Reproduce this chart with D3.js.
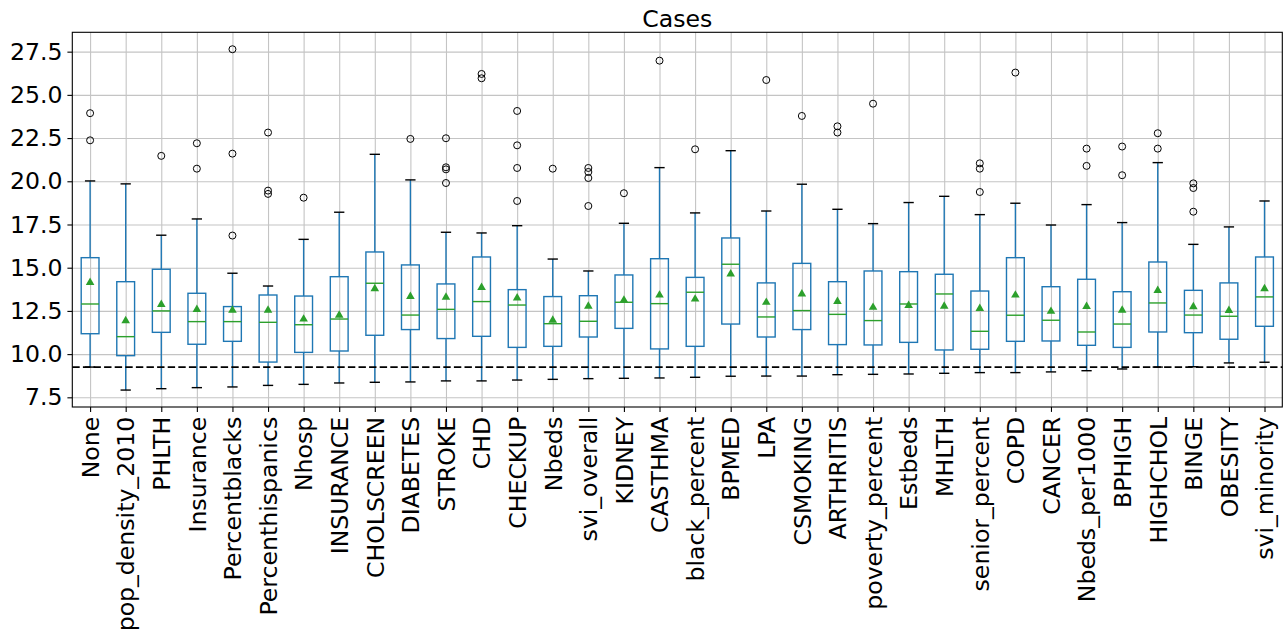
<!DOCTYPE html>
<html>
<head>
<meta charset="utf-8">
<script src="https://cdn.jsdelivr.net/npm/d3@7"></script>
<style>
  html, body { margin: 0; padding: 0; background: #fff; }
  svg { display: block; font-family: "DejaVu Sans", sans-serif; }
</style>
</head>
<body>
<div id="chart"></div>
<script>
// Box statistics, one entry per column
const categories = [
  "None", "pop_density_2010", "PHLTH", "Insurance", "Percentblacks", "Percenthispanics",
  "Nhosp", "INSURANCE", "CHOLSCREEN", "DIABETES", "STROKE", "CHD", "CHECKUP", "Nbeds",
  "svi_overall", "KIDNEY", "CASTHMA", "black_percent", "BPMED", "LPA", "CSMOKING",
  "ARTHRITIS", "poverty_percent", "Estbeds", "MHLTH", "senior_percent", "COPD", "CANCER",
  "Nbeds_per1000", "BPHIGH", "HIGHCHOL", "BINGE", "OBESITY", "svi_minority"
]

const whiskerLow = [9.25, 7.92, 8.0, 8.06, 8.1, 8.19, 8.25, 8.33, 8.37, 8.39, 8.45, 8.45, 8.5, 8.54,
  8.58, 8.6, 8.62, 8.66, 8.72, 8.73, 8.73, 8.81, 8.83, 8.85, 8.89, 8.93, 8.93, 8.97, 9.04, 9.14,
  9.25, 9.27, 9.49, 9.53]

const q1 = [11.18, 9.91, 11.26, 10.57, 10.74, 9.54, 10.1, 10.18, 11.09, 11.42, 10.9, 11.03, 10.39,
  10.45, 10.99, 11.49, 10.3, 10.45, 11.74, 10.99, 11.42, 10.55, 10.53, 10.68, 10.24, 10.28, 10.74,
  10.76, 10.51, 10.39, 11.28, 11.24, 10.86, 11.61]

const medians = [12.9, 11.01, 12.5, 11.88, 11.88, 11.84, 11.7, 12.03, 14.1, 12.26, 12.59, 13.04,
  12.84, 11.76, 11.9, 13.0, 12.92, 13.58, 15.2, 12.15, 12.52, 12.3, 11.94, 12.9, 13.48, 11.32,
  12.25, 11.96, 11.28, 11.74, 12.96, 12.26, 12.19, 13.31]

const q3 = [15.58, 14.19, 14.91, 13.52, 12.75, 13.42, 13.36, 14.48, 15.91, 15.16, 14.06, 15.62,
  13.73, 13.33, 13.38, 14.58, 15.52, 14.44, 16.72, 14.12, 15.25, 14.19, 14.81, 14.77, 14.62, 13.65,
  15.58, 13.9, 14.33, 13.61, 15.33, 13.69, 14.12, 15.62]

const whiskerHigh = [20.02, 19.85, 16.88, 17.82, 14.68, 13.94, 16.64, 18.21, 21.56, 20.08, 17.05,
  17.01, 17.43, 15.5, 14.81, 17.57, 20.79, 18.17, 21.77, 18.28, 19.83, 18.38, 17.55, 18.77, 19.13,
  18.07, 18.73, 17.47, 18.65, 17.61, 21.08, 16.35, 17.36, 18.86]

const means = [14.19, 11.98, 12.92, 12.63, 12.59, 12.59, 12.07, 12.3, 13.83, 13.38, 13.34, 13.9,
  13.29, 12.01, 12.82, 13.17, 13.46, 13.23, 14.68, 13.04, 13.52, 13.09, 12.75, 12.86, 12.82, 12.69,
  13.46, 12.52, 12.8, 12.59, 13.73, 12.79, 12.57, 13.83]

const outliers = [
  [23.94, 22.37], [], [21.47], [22.2, 20.73], [27.64, 21.6, 16.86], [22.82, 19.46, 19.27],
  [19.05], [], [], [22.45], [22.49, 20.81, 20.69, 19.9], [26.21, 25.96],
  [24.07, 22.08, 20.77, 18.86], [20.73], [20.77, 20.54, 20.19, 18.57], [19.31], [26.98],
  [21.85], [], [25.86], [23.78], [23.18, 22.82], [24.49], [], [], [21.04, 20.73, 19.38],
  [26.29], [], [21.89, 20.89], [22.01, 20.35], [22.78, 21.89], [19.88, 19.61, 18.24], [], []
]

const yTicks = [7.5, 10.0, 12.5, 15.0, 17.5, 20.0, 22.5, 25.0, 27.5]
const thresholdValue = 9.25
const title = "Cases"

const width = 1284
const height = 634
const margin = { top: 32.3, right: 1.7, bottom: 227, left: 72.3 }
const plotW = width - margin.left - margin.right
const plotH = height - margin.top - margin.bottom

const boxColor = "#1f77b4"
const medianColor = "#2ca02c"
const gridColor = "#c4c4c4"
const fontSize = "23.6px"

const svg = d3.select("#chart")
  .append("svg")
  .attr("width", width)
  .attr("height", height)

const g = svg.append("g")
  .attr("transform", `translate(${margin.left},${margin.top})`)

// Scales
const x = d3.scalePoint()
  .domain(categories)
  .range([0, plotW])
  .padding(0.5)

const y = d3.scaleLinear()
  .domain([6.94, 28.62])
  .range([plotH, 0])

const step = x.step()
const boxW = step * 0.5
const capW = step * 0.25 + 1.4

// Grid lines
g.append("g")
  .attr("class", "grid-y")
  .call(d3.axisLeft(y).tickValues(yTicks).tickSize(-plotW).tickFormat(""))
  .call(s => s.select(".domain").remove())
  .selectAll("line")
  .style("stroke", gridColor)
  .style("stroke-width", 1.1)

g.append("g")
  .attr("class", "grid-x")
  .attr("transform", `translate(0,${plotH})`)
  .call(d3.axisBottom(x).tickSize(-plotH).tickFormat(""))
  .call(s => s.select(".domain").remove())
  .selectAll("line")
  .style("stroke", gridColor)
  .style("stroke-width", 1.1)

const stats = categories.map((c, i) => ({
  name: c,
  lo: whiskerLow[i],
  q1: q1[i],
  med: medians[i],
  q3: q3[i],
  hi: whiskerHigh[i],
  mean: means[i],
  fliers: outliers[i]
}))

const boxes = g.selectAll(".box")
  .data(stats)
  .enter()
  .append("g")
  .attr("class", "box")
  .attr("transform", d => `translate(${x(d.name)},0)`)

// Whiskers
boxes.append("line")
  .attr("y1", d => y(d.q1)).attr("y2", d => y(d.lo))
  .style("stroke", boxColor).style("stroke-width", 1.4)

boxes.append("line")
  .attr("y1", d => y(d.q3)).attr("y2", d => y(d.hi))
  .style("stroke", boxColor).style("stroke-width", 1.4)

// Box
boxes.append("rect")
  .attr("x", -boxW / 2)
  .attr("width", boxW)
  .attr("y", d => y(d.q3))
  .attr("height", d => y(d.q1) - y(d.q3))
  .style("fill", "none")
  .style("stroke", boxColor)
  .style("stroke-width", 1.4)

// Caps
boxes.selectAll(".cap")
  .data(d => [d.lo, d.hi])
  .enter()
  .append("line")
  .attr("class", "cap")
  .attr("x1", -capW / 2).attr("x2", capW / 2)
  .attr("y1", v => y(v)).attr("y2", v => y(v))
  .style("stroke", "#000").style("stroke-width", 1.4)

// Median
boxes.append("line")
  .attr("x1", -boxW / 2).attr("x2", boxW / 2)
  .attr("y1", d => y(d.med)).attr("y2", d => y(d.med))
  .style("stroke", medianColor).style("stroke-width", 1.4)

// Outliers
boxes.selectAll(".flier")
  .data(d => d.fliers)
  .enter()
  .append("circle")
  .attr("class", "flier")
  .attr("cy", v => y(v))
  .attr("r", 3.5)
  .style("fill", "none")
  .style("stroke", "#000")
  .style("stroke-width", 1)

// Mean markers
const tri = d3.symbol().type(d3.symbolTriangle).size(32)
boxes.append("path")
  .attr("d", tri)
  .attr("transform", d => `translate(0,${y(d.mean) + 0.8})`)
  .style("fill", medianColor)

// Threshold line
g.append("line")
  .attr("x1", 0).attr("x2", plotW)
  .attr("y1", y(thresholdValue)).attr("y2", y(thresholdValue))
  .style("stroke", "#000")
  .style("stroke-width", 1.9)
  .style("stroke-dasharray", "7.4,3.2")

// Axes
const yAxis = g.append("g")
  .call(d3.axisLeft(y).tickValues(yTicks).tickSize(4.9).tickPadding(4.9).tickFormat(d3.format(".1f")))
yAxis.select(".domain").remove()
yAxis.selectAll("line").style("stroke", "#000").style("stroke-width", 1.1)
yAxis.selectAll("text")
  .style("font-size", fontSize)
  .style("fill", "#000")
  .style("font-family", "DejaVu Sans")

const xAxis = g.append("g")
  .attr("transform", `translate(0,${plotH})`)
  .call(d3.axisBottom(x).tickSize(4.9).tickPadding(4.9))
xAxis.select(".domain").remove()
xAxis.selectAll("line").style("stroke", "#000").style("stroke-width", 1.1)
xAxis.selectAll("text")
  .attr("transform", "rotate(-90)")
  .attr("x", -9.8)
  .attr("y", 0)
  .attr("dy", "0.35em")
  .attr("text-anchor", "end")
  .style("font-size", fontSize)
  .style("fill", "#000")
  .style("font-family", "DejaVu Sans")

// Frame
g.append("rect")
  .attr("width", plotW)
  .attr("height", plotH)
  .style("fill", "none")
  .style("stroke", "#000")
  .style("stroke-width", 1.1)

// Title
svg.append("text")
  .attr("x", margin.left + plotW / 2)
  .attr("y", 26.5)
  .attr("text-anchor", "middle")
  .style("font-size", fontSize)
  .style("fill", "#000")
  .text(title)
</script>
</body>
</html>
